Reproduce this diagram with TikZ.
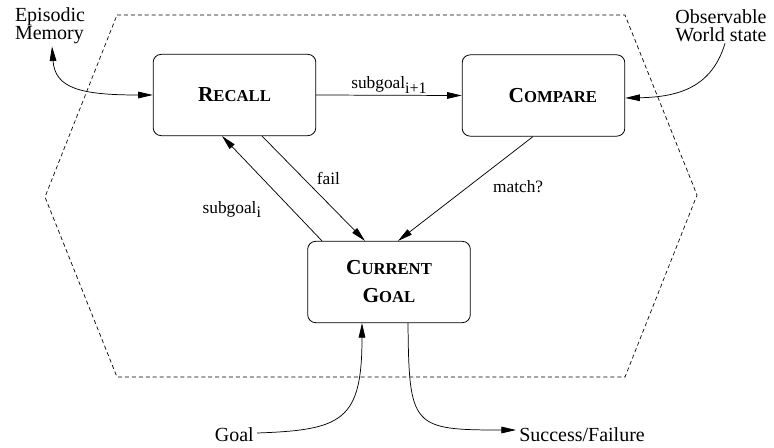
\documentclass[tikz,border=0pt]{standalone}
\usepackage{fontspec}
\setmainfont{Liberation Serif}
\usetikzlibrary{arrows.meta, positioning, calc}
\newcommand{\fsc}[2]{{\fontsize{16}{21}\selectfont #1}{\fontsize{12.5}{21}\selectfont #2}}
\newcommand{\subg}[1]{subgoal\raisebox{-3.5pt}{\fontsize{12}{12}\selectfont #1}}
\tikzset{
  modbox/.style={draw, rounded corners=6pt, line width=0.6pt, minimum width=122pt, minimum height=61pt,
    inner sep=0pt, align=center, font=\bfseries\fontsize{16}{21}\selectfont},
  flow/.style={->, line width=0.55pt},
  lbl/.style={font=\fontsize{13}{15}\selectfont, inner sep=1pt},
  ext/.style={font=\fontsize{15}{13.5}\selectfont, inner sep=0pt},
  boundary/.style={dash pattern=on 3pt off 2.2pt, line width=0.5pt},
}

\begin{document}
\begin{tikzpicture}[x=0.75pt, y=-0.75pt, >={Triangle[length=11pt,width=5pt]}]
  \useasboundingbox (0,0) rectangle (774,447);
  % agent boundary
  \draw[boundary] (117,15) -- (625,15) -- (697,195) -- (625,377) -- (117,377) -- (45,197) -- cycle;

  \node[modbox] (recall) at (234.5,95) {\fsc{R}{ECALL}};
  \node[modbox] (compare) at (543.5,95.5) {\hspace*{14pt}\fsc{C}{OMPARE}};
  \node[modbox] (current) at (389,282) {\fsc{C}{URRENT}\\\fsc{G}{OAL}};

  \node[ext, align=left] (epimem) at (50,26) {Episodic\\Memory};
  \node[ext, align=center] (obsws) at (721,26) {Observable\\World state};
  \node[ext, anchor=base east] (goal) at (254,441) {Goal};
  \node[ext, anchor=base west] (succ) at (519,441) {Success/Failure};

  \draw[flow] (recall.east) -- node[lbl, above] {\subg{i+1}} (compare.west);
  \draw[flow] ($(current.north)+(-67,0)$) -- node[lbl, pos=0.3, left=22pt] {\subg{i}} ($(recall.south)+(-12.5,0)$);
  \draw[flow] ($(recall.south)+(27.5,0)$) -- node[lbl, pos=0.4, right=9pt] {fail} ($(current.north)+(-24,0)$);
  \draw[flow] ($(compare.south)+(-10.5,0)$) -- node[lbl, pos=0.476, right=17pt] {match?} ($(current.north)+(9,0)$);

  \draw[<->, line width=0.55pt] ($(epimem.south)+(2,2)$) .. controls +(3,42) and +(-72,0) .. (recall.west);
  \draw[flow] ($(obsws.south)+(4,1)$) .. controls +(-13,43) and +(55,-1) .. ($(compare.east)+(0,2.5)$);
  \draw[flow] ($(goal.base east)+(3,-8)$) .. controls +(85,-3) and +(0,98) .. ($(current.south)+(-27,0)$);
  \draw[flow] ($(current.south)+(19,0)$) .. controls +(1,104) and +(-104,0) .. ($(succ.base west)+(-3,-11)$);
\end{tikzpicture}
\end{document}
